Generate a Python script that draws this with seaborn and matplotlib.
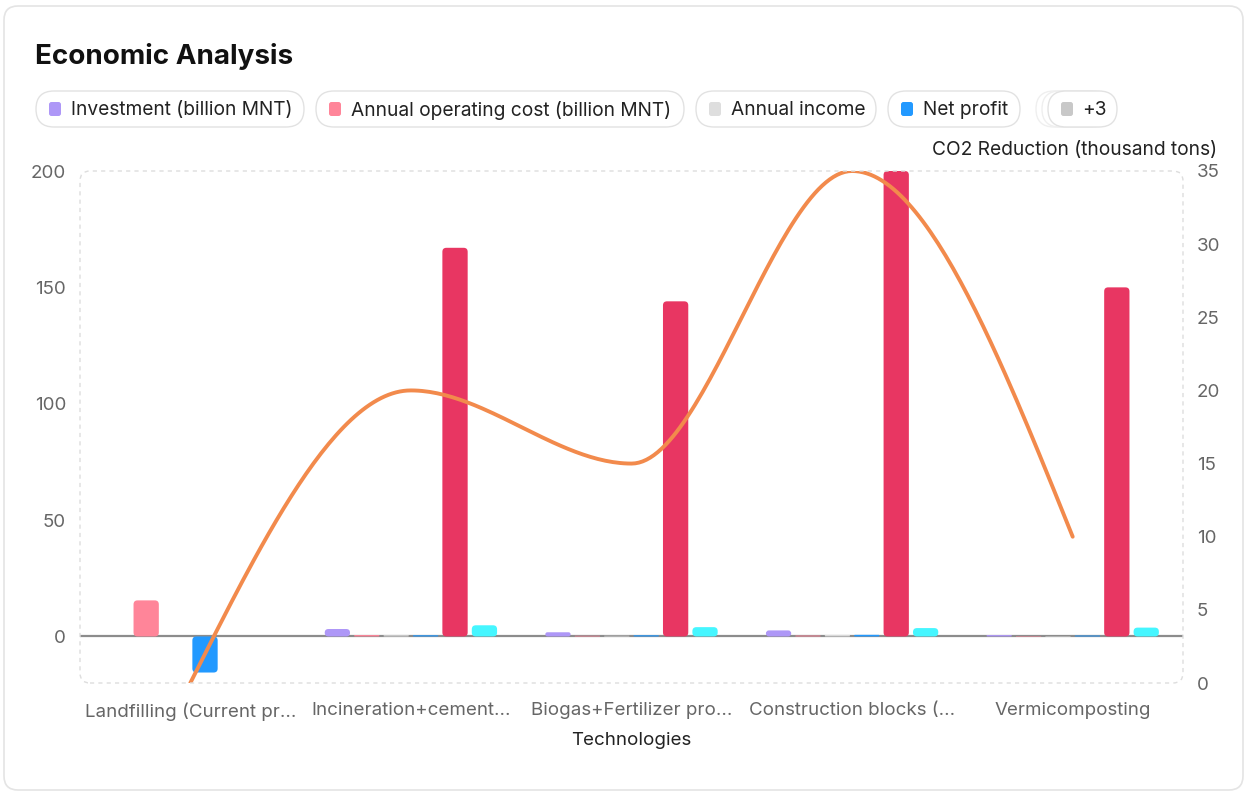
"""Economic analysis of waste treatment technologies: grouped bars plus CO2 line."""

import matplotlib
matplotlib.use("Agg")
import matplotlib.pyplot as plt
from matplotlib.patches import FancyBboxPatch
import numpy as np
import pandas as pd
import seaborn as sns

W, H = 1248, 792

technologies = [
    "Landfilling (Current practice)",
    "Incineration+cement kiln",
    "Biogas+Fertilizer production",
    "Construction blocks (RDF)",
    "Vermicomposting",
]
tick_labels = [
    "Landfilling (Current pr...",
    "Incineration+cement...",
    "Biogas+Fertilizer pro...",
    "Construction blocks (...",
    "Vermicomposting",
]
series_names = [
    "Investment (billion MNT)",
    "Annual operating cost (billion MNT)",
    "Annual income",
    "Net profit",
    "Processing capacity (tons/day)",
    "Payback period (years)",
]
investment = [0.0, 3.2, 1.8, 2.6, 0.6]
operating_cost = [15.5, 0.6, 0.3, 0.4, 0.2]
annual_income = [0.0, 0.5, 0.3, 0.6, 0.2]
net_profit = [-15.5, 0.5, 0.5, 0.7, 0.4]
capacity = [0.0, 167.0, 144.0, 200.0, 150.0]
payback = [0.0, 4.8, 4.0, 3.6, 3.8]
co2_reduction = [0.0, 20.0, 15.0, 35.0, 10.0]
co2_label = "CO2 Reduction (thousand tons)"

colors = ["#AE97F7", "#FF8599", "#DEDEDE", "#2299FF", "#E83662", "#45F6FF"]
line_color = "#F28A4C"


def monotone_x(xs, ys, steps=60):
    """Cubic monotone curve through the points (same idea as d3 curveMonotoneX)."""
    xs = np.asarray(xs, float)
    ys = np.asarray(ys, float)
    n = len(xs)
    h = np.diff(xs)
    s = np.diff(ys) / h
    t = np.zeros(n)
    for i in range(1, n - 1):
        p = (s[i - 1] * h[i] + s[i] * h[i - 1]) / (h[i - 1] + h[i])
        t[i] = (np.sign(s[i - 1]) + np.sign(s[i])) * min(abs(s[i - 1]), abs(s[i]), 0.5 * abs(p))
    t[0] = (3 * s[0] - t[1]) / 2
    t[-1] = (3 * s[-1] - t[-2]) / 2
    cx, cy = [], []
    u = np.linspace(0, 1, steps)
    for i in range(n - 1):
        dx = h[i]
        p0 = (xs[i], ys[i])
        p1 = (xs[i] + dx / 3, ys[i] + dx * t[i] / 3)
        p2 = (xs[i + 1] - dx / 3, ys[i + 1] - dx * t[i + 1] / 3)
        p3 = (xs[i + 1], ys[i + 1])
        b = [(1 - u) ** 3, 3 * (1 - u) ** 2 * u, 3 * (1 - u) * u ** 2, u ** 3]
        cx.append(b[0] * p0[0] + b[1] * p1[0] + b[2] * p2[0] + b[3] * p3[0])
        cy.append(b[0] * p0[1] + b[1] * p1[1] + b[2] * p2[1] + b[3] * p3[1])
    return np.concatenate(cx), np.concatenate(cy)


def fig_box(fig, x, y, w, h, r, **kw):
    """Rounded box in pixel coords (top-left origin)."""
    patch = FancyBboxPatch(
        (x / W, 1 - (y + h) / H), w / W, h / H,
        boxstyle=f"round,pad=0,rounding_size={r / W}",
        mutation_aspect=W / H, transform=fig.transFigure, **kw,
    )
    fig.patches.append(patch)
    return patch


def fig_text(fig, x, y, s, **kw):
    return fig.text(x / W, 1 - y / H, s, va="center", **kw)


sns.set_style("white")
plt.rcParams["font.family"] = ["Inter", "DejaVu Sans"]

values = [investment, operating_cost, annual_income, net_profit, capacity, payback]
df = pd.DataFrame(
    [(tech, name, vals[i]) for name, vals in zip(series_names, values)
     for i, tech in enumerate(technologies)],
    columns=["Technology", "Series", "Value"],
)

fig = plt.figure(figsize=(W / 100, H / 100), dpi=100)
fig.patch.set_facecolor("white")

# card outline
fig_box(fig, 4, 6, 1239, 784, 14, facecolor="none", edgecolor="#E4E4E4", linewidth=1.2)

ax_l, ax_t, ax_r, ax_b = 80, 171, 1183, 683
ax = fig.add_axes([ax_l / W, 1 - ax_b / H, (ax_r - ax_l) / W, (ax_b - ax_t) / H])
ax.set_facecolor("none")

sns.barplot(
    data=df, x="Technology", y="Value", hue="Series",
    order=technologies, hue_order=series_names,
    palette=dict(zip(series_names, colors)), saturation=1,
    width=0.8, gap=0.14, errorbar=None, legend=False, ax=ax,
)

ax.set_xlim(-0.5, len(technologies) - 0.5)
ax.set_ylim(-20, 200)

# swap plain rectangles for softly rounded bars
px_x = (ax_r - ax_l) / (len(technologies))
px_y = (ax_b - ax_t) / 220.0
aspect = (1 / px_y) / (1 / px_x)
for rect in list(ax.patches):
    x, y = rect.get_x(), rect.get_y()
    w, h = rect.get_width(), rect.get_height()
    if h == 0:
        rect.remove()
        continue
    if h < 0:
        y, h = y + h, -h
    r = min(4 / px_x, w / 2, h / aspect / 2)
    fb = FancyBboxPatch(
        (x, y), w, h, boxstyle=f"round,pad=0,rounding_size={r}",
        mutation_aspect=aspect, facecolor=rect.get_facecolor(),
        edgecolor="none", zorder=2,
    )
    rect.remove()
    ax.add_patch(fb)

ax.axhline(0, color="#8C8C8C", linewidth=1.6, zorder=1.5)

for side in ax.spines.values():
    side.set_visible(False)

ax.set_yticks([0, 50, 100, 150, 200])
ax.tick_params(axis="y", length=0, pad=10, labelsize=13.5, labelcolor="#666666")
ax.set_xticks(range(len(technologies)))
ax.set_xticklabels(tick_labels)
ax.tick_params(axis="x", length=6, width=1, color="#DDDDDD", pad=8,
               labelsize=13.5, labelcolor="#666666")
ax.set_xlabel("Technologies", fontsize=13.5, color="#222222", labelpad=8)
ax.set_ylabel("")

# dashed plot frame with rounded corners
fig_box(fig, ax_l, ax_t, ax_r - ax_l, ax_b - ax_t, 10, facecolor="none",
        edgecolor="#DDDDDD", linewidth=1, linestyle=(0, (3, 3)))

ax2 = ax.twinx()
ax2.set_ylim(0, 35)
ax2.set_yticks(range(0, 36, 5))
ax2.tick_params(axis="y", length=0, pad=10, labelsize=13.5, labelcolor="#666666")
for side in ax2.spines.values():
    side.set_visible(False)
cx, cy = monotone_x(range(len(technologies)), co2_reduction)
ax2.plot(cx, cy, color=line_color, linewidth=2.8, solid_capstyle="round", zorder=5)
ax2.set_xlim(ax.get_xlim())

fig_text(fig, 1217, 150, co2_label, ha="right", fontsize=13.8, color="#222222")

# title
fig_text(fig, 35, 57, "Economic Analysis", ha="left", fontsize=20,
         fontweight="bold", color="#111111")

# legend pills
pill_y, pill_h = 91, 36
pills = [(36, 304), (316, 684), (696, 876), (888, 1020)]
for (x0, x1), name, col in zip(pills, series_names, colors):
    fig_box(fig, x0, pill_y, x1 - x0, pill_h, 18, facecolor="white",
            edgecolor="#E2E2E2", linewidth=1)
    fig_box(fig, x0 + 13, pill_y + 11, 12, 14, 2.5, facecolor=col, edgecolor="none")
    fig_text(fig, x0 + 35, pill_y + pill_h / 2 + 1, name, ha="left", fontsize=13.8,
             color="#222222")

for gx in (1036, 1042):
    fig_box(fig, gx, pill_y, 69, pill_h, 18, facecolor="white",
            edgecolor="#EFEFEF", linewidth=1)
fig_box(fig, 1048, pill_y, 69, pill_h, 18, facecolor="white",
        edgecolor="#E2E2E2", linewidth=1)
fig_box(fig, 1061, pill_y + 11, 12, 14, 2.5, facecolor="#C8C8C8", edgecolor="none")
fig_text(fig, 1082, pill_y + pill_h / 2 + 1, f"+{len(series_names) + 1 - len(pills)}",
         ha="left", fontsize=13.8, color="#222222")

fig.savefig("out.png", dpi=100, facecolor="white")
